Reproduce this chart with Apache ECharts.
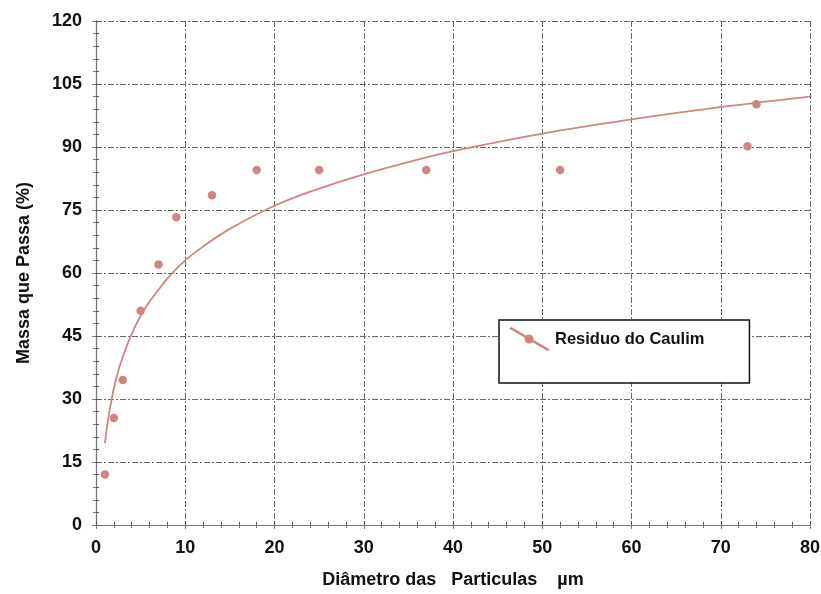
<!DOCTYPE html>
<html>
<head>
<meta charset="utf-8">
<script src="https://cdn.jsdelivr.net/npm/echarts@6/dist/echarts.min.js"></script>
<style>html,body{margin:0;padding:0;background:#fff}#c{width:821px;height:594px}</style>
</head>
<body>
<div id="c"></div>
<script>
// Measured points (diameter µm, % passing)
const diam = [1, 2, 3, 5, 7, 9, 13, 18, 25, 37, 52, 73, 74];
const passa = [12, 25.5, 34.5, 51, 62, 73.3, 78.5, 84.5, 84.5, 84.5, 84.5, 90.2, 100.2];
// Fitted trend curve
const curveX = [1, 1.2, 1.5, 2, 2.5, 3, 4, 5, 6, 7, 8, 10, 12, 15, 20, 25, 30, 35, 40, 50, 60, 70, 80];
const curveY = [19.5, 22.9, 27, 32.5, 36.8, 40, 45.5, 49.8, 53.2, 56, 58.7, 63, 66.3, 70.5, 76, 80.1, 83.5, 86.4, 89, 93.2, 96.6, 99.5, 102];
const xTicks = [0, 80, 10];
const yTicks = [0, 120, 15];
const seriesName = 'Residuo do Caulim';

const col = '#cf8580';
const font = 'Liberation Sans, Arial, sans-serif';
const grid = { left: 96, right: 11, top: 21, bottom: 69, containLabel: false, outerBoundsMode: 'none' };
const splitStyle = { show: true, lineStyle: { color: '#666', width: 1, type: [6, 2, 2, 2] } };

const chart = echarts.init(document.getElementById('c'));
chart.setOption({
  animation: false,
  backgroundColor: '#fff',
  grid: grid,
  legend: {
    data: [seriesName],
    left: 499, top: 320,
    padding: [7, 45, 32, 10],
    borderColor: '#111', borderWidth: 1.5,
    backgroundColor: '#fff',
    itemWidth: 41, itemHeight: 24, itemGap: 10,
    icon: 'path://M0,1.5 L2.5,0 L41,22.5 L38.5,24 Z M15.5,12 a4.5,4.5 0 1,1 9,0 a4.5,4.5 0 1,1 -9,0 Z',
    textStyle: { fontFamily: font, fontWeight: 'bold', fontSize: 16.5, color: '#111' }
  },
  xAxis: [{
    type: 'value', min: xTicks[0], max: xTicks[1], interval: xTicks[2],
    name: 'Diâmetro das   Particulas    µm', nameLocation: 'middle', nameGap: 46,
    nameTextStyle: { fontFamily: font, fontWeight: 'bold', fontSize: 18, color: '#111' },
    axisLine: { show: true, lineStyle: { color: '#333', width: 1.2 } },
    axisTick: { show: true, inside: true, length: 4, lineStyle: { color: '#555' } },
    minorTick: { show: true, splitNumber: 5, length: 3, lineStyle: { color: '#555' } },
    axisLabel: { fontFamily: font, fontWeight: 'bold', fontSize: 18, color: '#111', margin: 14 },
    splitLine: splitStyle
  }, {
    type: 'value', position: 'top', min: xTicks[0], max: xTicks[1], interval: xTicks[2],
    axisLine: { show: true, lineStyle: { color: '#777', width: 1 } },
    axisTick: { show: true, inside: true, length: 4, lineStyle: { color: '#777' } },
    minorTick: { show: true, splitNumber: 5, length: 3, lineStyle: { color: '#777' } },
    axisLabel: { show: false }, splitLine: { show: false }
  }],
  yAxis: [{
    type: 'value', min: yTicks[0], max: yTicks[1], interval: yTicks[2],
    name: 'Massa que Passa (%)', nameLocation: 'middle', nameGap: 63,
    nameTextStyle: { fontFamily: font, fontWeight: 'bold', fontSize: 18, color: '#111' },
    axisLine: { show: true, lineStyle: { color: '#333', width: 1.2 } },
    axisTick: { show: true, inside: true, length: 4, lineStyle: { color: '#555' } },
    minorTick: { show: true, splitNumber: 5, length: 3, lineStyle: { color: '#555' } },
    axisLabel: { fontFamily: font, fontWeight: 'bold', fontSize: 18, color: '#111', margin: 14 },
    splitLine: splitStyle
  }, {
    type: 'value', position: 'right', min: yTicks[0], max: yTicks[1], interval: yTicks[2],
    axisLine: { show: true, lineStyle: { color: '#777', width: 1 } },
    axisTick: { show: true, inside: true, length: 4, lineStyle: { color: '#777' } },
    minorTick: { show: true, splitNumber: 5, length: 3, lineStyle: { color: '#777' } },
    axisLabel: { show: false }, splitLine: { show: false }
  }],
  series: [{
    name: 'ajuste', type: 'line', smooth: 0.4, showSymbol: false,
    xAxisIndex: 0, yAxisIndex: 0,
    lineStyle: { color: col, width: 1.8 }, itemStyle: { color: col },
    data: curveX.map((x, i) => [x, curveY[i]])
  }, {
    name: seriesName, type: 'scatter', symbolSize: 8.5,
    xAxisIndex: 0, yAxisIndex: 0,
    itemStyle: { color: col, opacity: 1 },
    data: diam.map((x, i) => [x, passa[i]])
  }]
});
</script>
</body>
</html>
